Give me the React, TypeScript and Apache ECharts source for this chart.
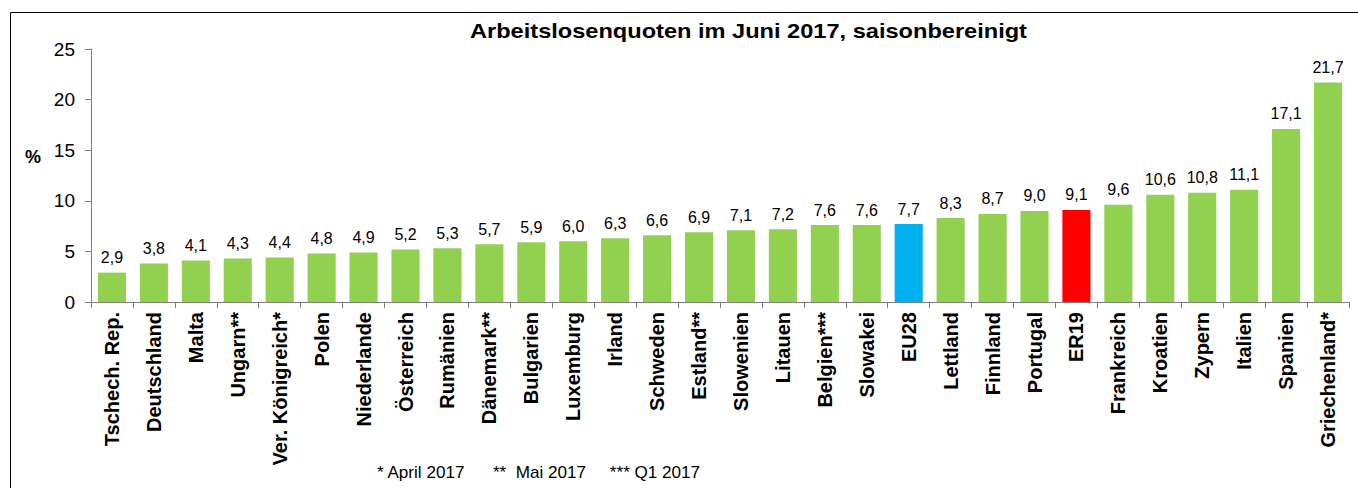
import React, { useEffect, useRef } from "react";
import * as echarts from "echarts";

const categories = [
  "Tschech. Rep.", "Deutschland", "Malta", "Ungarn**", "Ver. Königreich*", "Polen",
  "Niederlande", "Österreich", "Rumänien", "Dänemark**", "Bulgarien", "Luxemburg",
  "Irland", "Schweden", "Estland**", "Slowenien", "Litauen", "Belgien***", "Slowakei",
  "EU28", "Lettland", "Finnland", "Portugal", "ER19", "Frankreich", "Kroatien",
  "Zypern", "Italien", "Spanien", "Griechenland*",
];
const values = [
  2.9, 3.8, 4.1, 4.3, 4.4, 4.8, 4.9, 5.2, 5.3, 5.7, 5.9, 6.0, 6.3, 6.6, 6.9, 7.1,
  7.2, 7.6, 7.6, 7.7, 8.3, 8.7, 9.0, 9.1, 9.6, 10.6, 10.8, 11.1, 17.1, 21.7,
];
const yTicks = [0, 5, 10, 15, 20, 25];
const titleText = "Arbeitslosenquoten im Juni 2017, saisonbereinigt";
const footnoteText = "* April 2017      **  Mai 2017     *** Q1 2017";

const GREEN = "#92D050";
const BLUE = "#00B0F0";
const RED = "#FF0000";
const FONT = "'Liberation Sans', Arial, sans-serif";

export default function App() {
  const ref = useRef<HTMLDivElement>(null);
  useEffect(() => {
    if (!ref.current) return;
    const chart = echarts.init(ref.current, undefined, { renderer: "svg" });
    chart.setOption({
      animation: false,
      backgroundColor: "#fff",
      grid: { left: 91, right: 9, top: 49, bottom: 186, containLabel: false },
      xAxis: {
        type: "category",
        data: categories,
        axisLine: { show: true, lineStyle: { color: "#808080", width: 1 } },
        axisTick: { show: true, length: 6, lineStyle: { color: "#808080" } },
        axisLabel: {
          rotate: 90,
          interval: 0,
          margin: 10,
          fontFamily: FONT,
          fontSize: 20,
          fontWeight: "bold",
          color: "#000",
        },
      },
      yAxis: {
        type: "value",
        min: yTicks[0],
        max: yTicks[yTicks.length - 1],
        interval: 5,
        axisLine: { show: true, lineStyle: { color: "#808080", width: 1 } },
        axisTick: { show: true, length: 6, lineStyle: { color: "#808080" } },
        splitLine: { show: false },
        axisLabel: { fontFamily: FONT, fontSize: 19, color: "#000", margin: 16 },
      },
      series: [
        {
          type: "bar",
          data: values.map((v, i) => ({
            value: v,
            itemStyle: {
              color: categories[i] === "EU28" ? BLUE : categories[i] === "ER19" ? RED : GREEN,
            },
          })),
          barCategoryGap: "33%",
          label: {
            show: true,
            position: "top",
            distance: 7,
            fontFamily: FONT,
            fontSize: 16,
            color: "#000",
            formatter: (p: any) => p.value.toFixed(1).replace(".", ","),
          },
        },
      ],
      graphic: [
        { type: "line", shape: { x1: 10.5, y1: 12.5, x2: 1358, y2: 12.5 }, style: { stroke: "#000", lineWidth: 1 } },
        { type: "line", shape: { x1: 10.5, y1: 12.5, x2: 10.5, y2: 488 }, style: { stroke: "#000", lineWidth: 1 } },
        {
          type: "text",
          x: 470,
          y: 31,
          scaleX: 1.18,
          style: {
            text: titleText,
            font: `bold 20px ${FONT}`,
            fill: "#000",
            textAlign: "left",
            textVerticalAlign: "middle",
          },
        },
        {
          type: "text",
          x: 25,
          y: 157,
          style: {
            text: "%",
            font: `bold 18px ${FONT}`,
            fill: "#000",
            textAlign: "left",
            textVerticalAlign: "middle",
          },
        },
        {
          type: "text",
          x: 377,
          y: 473,
          scaleX: 1.07,
          style: {
            text: footnoteText,
            font: `16px ${FONT}`,
            fill: "#000",
            textAlign: "left",
            textVerticalAlign: "middle",
          },
        },
      ],
    });
    return () => chart.dispose();
  }, []);
  return <div ref={ref} style={{ width: 1358, height: 488, position: "absolute", left: 0, top: 0 }} />;
}
